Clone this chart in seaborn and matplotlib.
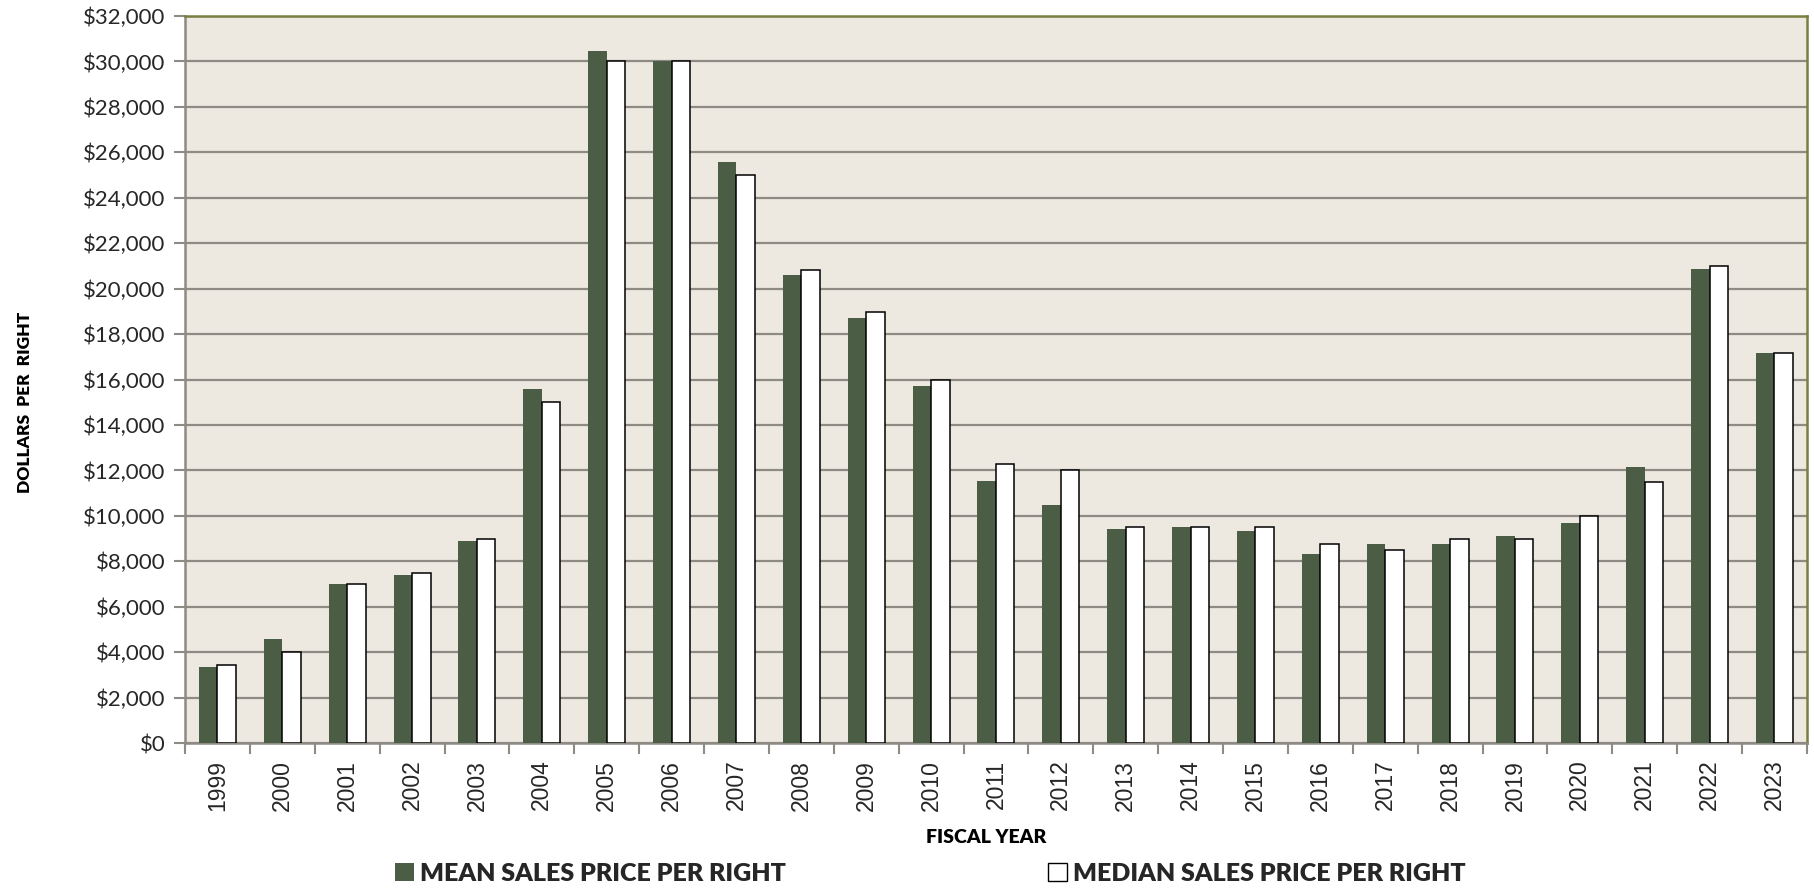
import numpy as np
import pandas as pd
import matplotlib
matplotlib.use("Agg")
import matplotlib.pyplot as plt
import matplotlib.ticker as mticker
from matplotlib.patches import Patch
import seaborn as sns

# values
years = [str(y) for y in range(1999, 2024)]
mean_price = [3350, 4600, 7000, 7400, 8900, 15600, 30450, 30000, 25570, 20620,
              18700, 15730, 11530, 10480, 9400, 9500, 9350, 8300, 8760, 8760,
              9120, 9700, 12130, 20850, 17150]
median_price = [3420, 4000, 7000, 7500, 9000, 15000, 30000, 30000, 25000, 20830,
                18980, 16000, 12270, 12000, 9520, 9520, 9500, 8760, 8500, 9000,
                9000, 10000, 11500, 21000, 17150]
series_names = ["MEAN SALES PRICE PER RIGHT", "MEDIAN SALES PRICE PER RIGHT"]

df = pd.DataFrame({
    "year": years * 2,
    "series": [series_names[0]] * len(years) + [series_names[1]] * len(years),
    "price": mean_price + median_price,
})

mean_color = "#4B5E45"
bg_color = "#EDE9E0"
grid_color = "#8E8B85"

sns.set_theme(style="white")
plt.rcParams["font.family"] = ["Lato", "DejaVu Sans"]

fig = plt.figure(figsize=(18.14, 8.89), dpi=100)
ax = fig.add_axes([0.102, 0.1642, 0.8941, 0.8178])
ax.set_facecolor(bg_color)

sns.barplot(data=df, x="year", y="price", hue="series",
            palette={series_names[0]: mean_color, series_names[1]: "white"},
            width=0.57, gap=0, errorbar=None, legend=False, ax=ax,
            saturation=1, zorder=3)

for bar in ax.containers[0]:
    bar.set_edgecolor(mean_color)
    bar.set_linewidth(0)
for bar in ax.containers[1]:
    bar.set_edgecolor("black")
    bar.set_linewidth(1.1)

ax.set_xlim(-0.5, len(years) - 0.5)
ax.set_ylim(0, 32000)
ax.yaxis.set_major_locator(mticker.MultipleLocator(2000))
ax.yaxis.set_major_formatter(mticker.StrMethodFormatter("${x:,.0f}"))
ax.grid(axis="y", color=grid_color, linewidth=1.6, zorder=0)
ax.set_axisbelow(True)

ax.tick_params(axis="y", which="major", direction="out", length=8, width=1.5,
               color=grid_color, labelsize=16, pad=6, left=True)
ax.tick_params(axis="x", which="major", length=0, labelsize=16.5, pad=12,
               labelrotation=90)
for lbl in ax.get_xticklabels():
    lbl.set_fontfamily(["Liberation Sans", "DejaVu Sans"])
ax.xaxis.set_minor_locator(mticker.FixedLocator(np.arange(-0.5, len(years), 1)))
ax.tick_params(axis="x", which="minor", direction="out", length=8, width=1.5,
               color=grid_color, bottom=True)

for side in ["left", "bottom"]:
    ax.spines[side].set_color(grid_color)
    ax.spines[side].set_linewidth(1.8)
for side in ["top", "right"]:
    ax.spines[side].set_color("#7A7F3F")
    ax.spines[side].set_linewidth(1.8)

ax.set_xlabel("FISCAL YEAR", fontsize=14, fontweight="heavy", color="black")
ax.xaxis.set_label_coords(0.494, -0.118)
ax.set_ylabel("DOLLARS  PER  RIGHT", fontsize=12.5, fontweight="heavy", color="black")
ax.yaxis.set_label_coords(-0.094, 0.469)

handles = [Patch(facecolor=mean_color, edgecolor=mean_color, linewidth=0),
           Patch(facecolor="white", edgecolor="black", linewidth=1)]
fig.legend(handles, series_names, loc="center", bbox_to_anchor=(0.513, 0.017),
           ncol=2, frameon=False, handlelength=0.75, handleheight=0.75,
           handletextpad=0.25, columnspacing=10.5,
           prop={"weight": "heavy", "size": 18})

fig.savefig("out.png", dpi=100, facecolor="white")
